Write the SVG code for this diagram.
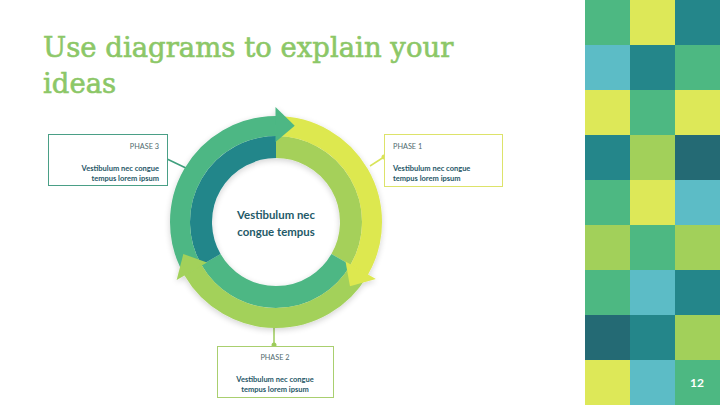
<svg xmlns="http://www.w3.org/2000/svg" width="720" height="405" viewBox="0 0 720 405">
<defs>
<style>
.title{font-family:"DejaVu Serif","Liberation Serif",serif;font-size:27.5px;fill:#8cc767;stroke:#8cc767;stroke-width:0.6}
.ph{font-family:Lato,"Open Sans","Liberation Sans",sans-serif;font-size:7.3px;fill:#4f6a6e}
.bd{font-family:Lato,"Open Sans","Liberation Sans",sans-serif;font-size:7.5px;font-weight:bold;fill:#1f5767}
.ctr{font-family:Lato,"Open Sans","Liberation Sans",sans-serif;font-size:11.4px;font-weight:bold;fill:#1f5a68}
.num{font-family:Lato,"Open Sans","Liberation Sans",sans-serif;font-size:12px;font-weight:bold;fill:#ffffff}
.band{fill:none}
.box{fill:#ffffff;stroke-width:1}
</style>
<path id="ah" d="M275.5 107 L294.7 125.8 L275.5 142 Z"/>
<filter id="sh" x="-20%" y="-20%" width="140%" height="140%">
<feGaussianBlur in="SourceAlpha" stdDeviation="3"/>
<feOffset dx="0" dy="1.5" result="b"/>
<feComponentTransfer><feFuncA type="linear" slope="0.18"/></feComponentTransfer>
<feMerge><feMergeNode/><feMergeNode in="SourceGraphic"/></feMerge>
</filter>
</defs>
<rect width="720" height="405" fill="#ffffff"/>

<g id="tiles">
<rect x="585" y="0" width="45" height="45" fill="#4db882"/>
<rect x="630" y="0" width="45" height="45" fill="#dde858"/>
<rect x="675" y="0" width="45" height="45" fill="#24868a"/>
<rect x="585" y="45" width="45" height="45" fill="#5cbcc6"/>
<rect x="630" y="45" width="45" height="45" fill="#24868a"/>
<rect x="675" y="45" width="45" height="45" fill="#4db882"/>
<rect x="585" y="90" width="45" height="45" fill="#dde858"/>
<rect x="630" y="90" width="45" height="45" fill="#4db882"/>
<rect x="675" y="90" width="45" height="45" fill="#dde858"/>
<rect x="585" y="135" width="45" height="45" fill="#24868a"/>
<rect x="630" y="135" width="45" height="45" fill="#a2d05a"/>
<rect x="675" y="135" width="45" height="45" fill="#246a74"/>
<rect x="585" y="180" width="45" height="45" fill="#4db882"/>
<rect x="630" y="180" width="45" height="45" fill="#dde858"/>
<rect x="675" y="180" width="45" height="45" fill="#5cbcc6"/>
<rect x="585" y="225" width="45" height="45" fill="#a2d05a"/>
<rect x="630" y="225" width="45" height="45" fill="#4db882"/>
<rect x="675" y="225" width="45" height="45" fill="#a2d05a"/>
<rect x="585" y="270" width="45" height="45" fill="#4db882"/>
<rect x="630" y="270" width="45" height="45" fill="#5cbcc6"/>
<rect x="675" y="270" width="45" height="45" fill="#24868a"/>
<rect x="585" y="315" width="45" height="45" fill="#246a74"/>
<rect x="630" y="315" width="45" height="45" fill="#24868a"/>
<rect x="675" y="315" width="45" height="45" fill="#a2d05a"/>
<rect x="585" y="360" width="45" height="45" fill="#dde858"/>
<rect x="630" y="360" width="45" height="45" fill="#5cbcc6"/>
<rect x="675" y="360" width="45" height="45" fill="#4db882"/>
<text class="num" x="697" y="387" text-anchor="middle">12</text>
</g>

<g id="title">
<text class="title" x="43" y="57">Use diagrams to explain your</text>
<text class="title" x="43" y="93">ideas</text>
</g>

<g id="connectors">
<line x1="165" y1="158" x2="188" y2="169" stroke="#3f9f7d" stroke-width="1.5"/>
<circle cx="165" cy="158" r="2.5" fill="#3f9f7d"/>
<line x1="384" y1="157" x2="370" y2="166" stroke="#d9e45a" stroke-width="1.5"/>
<circle cx="384" cy="157" r="2.5" fill="#d9e45a"/>
<line x1="274" y1="326" x2="274" y2="346" stroke="#9dcc5a" stroke-width="1.5"/>
<circle cx="274" cy="345" r="2.5" fill="#9dcc5a"/>
</g>

<g id="cycle" filter="url(#sh)">
<path class="band" d="M276 147 A75 75 0 0 1 340.95 259.5" stroke="#a5d05a" stroke-width="22"/>
<path class="band" d="M340.95 259.5 A75 75 0 0 1 211.05 259.5" stroke="#4db784" stroke-width="22"/>
<path class="band" d="M211.05 259.5 A75 75 0 0 1 276 147" stroke="#22868a" stroke-width="22"/>
<path class="band" d="M276 126 A96 96 0 0 1 359.14 270" stroke="#dde84f" stroke-width="20"/>
<path class="band" d="M359.14 270 A96 96 0 0 1 192.86 270" stroke="#a3d15a" stroke-width="20"/>
<path class="band" d="M192.86 270 A96 96 0 0 1 276 126" stroke="#4db784" stroke-width="20"/>
<use href="#ah" fill="#4db784"/>
<use href="#ah" fill="#dde84f" transform="rotate(120 276 222)"/>
<use href="#ah" fill="#a3d15a" transform="rotate(240 276 222)"/>
</g>

<g id="center">
<text class="ctr" x="276" y="219" text-anchor="middle">Vestibulum nec</text>
<text class="ctr" x="276" y="236" text-anchor="middle">congue tempus</text>
</g>

<g id="phase3">
<rect class="box" x="48.5" y="134.5" width="119" height="51" stroke="#4a9f86"/>
<text class="ph" x="159" y="149" text-anchor="end">PHASE 3</text>
<text class="bd" x="159" y="171" text-anchor="end">Vestibulum nec congue</text>
<text class="bd" x="159" y="181" text-anchor="end">tempus lorem ipsum</text>
</g>

<g id="phase1">
<rect class="box" x="384.5" y="134.5" width="118" height="52" stroke="#dde36a"/>
<text class="ph" x="393" y="149">PHASE 1</text>
<text class="bd" x="393" y="171">Vestibulum nec congue</text>
<text class="bd" x="393" y="181">tempus lorem ipsum</text>
</g>

<g id="phase2">
<rect class="box" x="217.5" y="346.5" width="116" height="51" stroke="#a9cf6f"/>
<text class="ph" x="275" y="360" text-anchor="middle">PHASE 2</text>
<text class="bd" x="275" y="382" text-anchor="middle">Vestibulum nec congue</text>
<text class="bd" x="275" y="392" text-anchor="middle">tempus lorem ipsum</text>
</g>
</svg>
